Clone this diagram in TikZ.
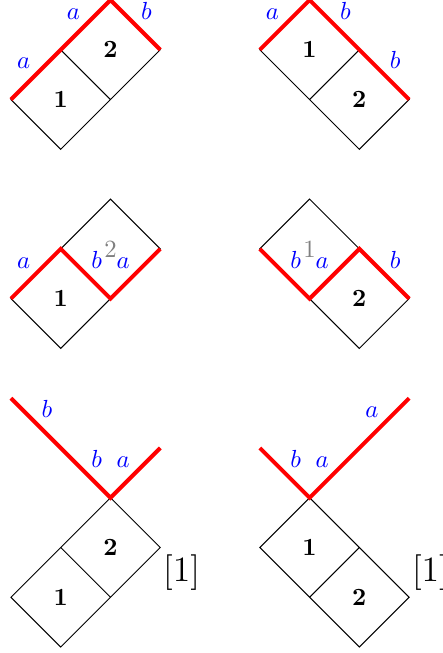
\documentclass[tikz,border=0pt]{standalone}
\begin{document}
\begin{tikzpicture}[
x=0.7071cm, y=0.7071cm,
cell/.style={thin},
cut/.style={red, ultra thick},
lbl/.style={blue, inner sep=1.5pt},
num/.style={font=\bfseries},
ghost/.style={gray},
tag/.style={font=\Large, anchor=west, inner sep=1pt}
]
\useasboundingbox (-0.22,0) rectangle (8.68,-13.12);

% first row
\draw[cell] (0,-2) -- (1,-3) -- (3,-1) -- (2,0) -- cycle (1,-1) -- (2,-2);
\draw[cut] (0,-2) -- node[lbl,above left] (a-la1) {$a$} (1,-1)
	-- node[lbl,above left] (a-la2) {$a$} (2,0)
	-- node[lbl,above right] (a-lb1) {$b$} (3,-1);
\node[num] (a-1) at (1,-2) {1};
\node[num] (a-2) at (2,-1) {2};

\draw[cell] (5,-1) -- (6,0) -- (8,-2) -- (7,-3) -- cycle (7,-1) -- (6,-2);
\draw[cut] (5,-1) -- node[lbl,above left] (b-la1) {$a$} (6,0)
	-- node[lbl,above right] (b-lb1) {$b$} (7,-1)
	-- node[lbl,above right] (b-lb2) {$b$} (8,-2);
\node[num] (b-1) at (6,-1) {1};
\node[num] (b-2) at (7,-2) {2};

% second row
\draw[cell] (0,-6) -- (1,-7) -- (3,-5) -- (2,-4) -- cycle (1,-5) -- (2,-6);
\draw[cut] (0,-6) -- node[lbl,above left] (c-la1) {$a$} (1,-5)
	-- node[lbl,above right] (c-lb1) {$b$} (2,-6)
	-- node[lbl,above left] (c-la2) {$a$} (3,-5);
\node[num] (c-1) at (1,-6) {1};
\node[ghost] (c-2) at (2,-5) {2};

\draw[cell] (5,-5) -- (6,-4) -- (8,-6) -- (7,-7) -- cycle (7,-5) -- (6,-6);
\draw[cut] (5,-5) -- node[lbl,above right] (d-lb1) {$b$} (6,-6)
	-- node[lbl,above left] (d-la1) {$a$} (7,-5)
	-- node[lbl,above right] (d-lb2) {$b$} (8,-6);
\node[ghost] (d-1) at (6,-5) {1};
\node[num] (d-2) at (7,-6) {2};

% third row
\draw[cell] (0,-12) -- (1,-13) -- (3,-11) -- (2,-10) -- cycle (1,-11) -- (2,-12);
\draw[cut] (0,-8) -- node[lbl,above right] (e-lb1) {$b$} (1,-9)
	-- node[lbl,above right] (e-lb2) {$b$} (2,-10)
	-- node[lbl,above left] (e-la1) {$a$} (3,-9);
\node[num] (e-1) at (1,-12) {1};
\node[num] (e-2) at (2,-11) {2};
\node[tag] (e-tag) at (3,-11.5) {$[1]$};

\draw[cell] (5,-11) -- (6,-10) -- (8,-12) -- (7,-13) -- cycle (7,-11) -- (6,-12);
\draw[cut] (5,-9) -- node[lbl,above right] (f-lb1) {$b$} (6,-10)
	-- node[lbl,above left] (f-la1) {$a$} (7,-9)
	-- node[lbl,above left] (f-la2) {$a$} (8,-8);
\node[num] (f-1) at (6,-11) {1};
\node[num] (f-2) at (7,-12) {2};
\node[tag] (f-tag) at (8,-11.5) {$[1]$};
\end{tikzpicture}
\end{document}
